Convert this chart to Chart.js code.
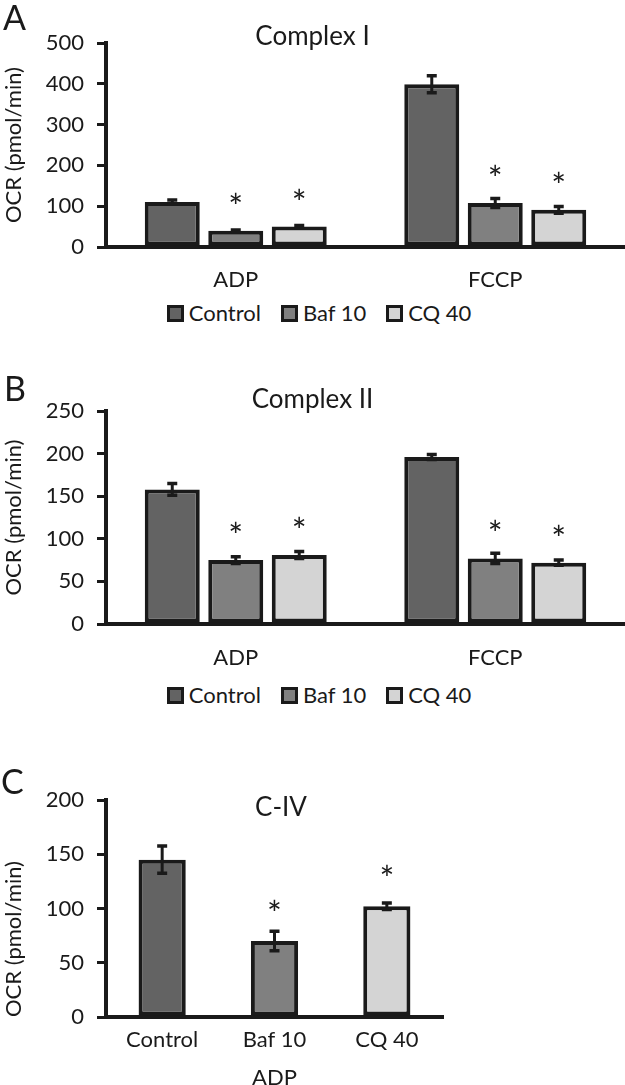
<!DOCTYPE html>
<html>
<head>
<meta charset="utf-8">
<script src="https://cdn.jsdelivr.net/npm/chart.js@4.4.0/dist/chart.umd.min.js"></script>
<style>
  body { margin: 0; width: 625px; height: 1085px; overflow: hidden; background: #fff; font-family: Lato, sans-serif; color: #1a1a1a; }
  canvas { position: absolute; left: 0; }
  .leyenda { position: absolute; left: 0; width: 638px; display: flex; justify-content: center; gap: 20px; font-size: 22px; line-height: 24px; }
  .item { display: flex; align-items: center; }
  .caja { width: 17px; height: 17px; box-sizing: border-box; border: 3px solid #1a1a1a; margin-right: 5px; }
</style>
</head>
<body>
<canvas id="graficoA" width="625" height="293" style="top:0"></canvas>
<div class="leyenda" id="leyendaA" style="top:301px"></div>
<canvas id="graficoB" width="625" height="330" style="top:340px"></canvas>
<div class="leyenda" id="leyendaB" style="top:683px"></div>
<canvas id="graficoC" width="562" height="335" style="top:760px"></canvas>
<script>
// Datos
const series = ['Control', 'Baf 10', 'CQ 40'];
const colores = ['#636363', '#808080', '#d4d4d4'];
const borde = '#1a1a1a';
const categoriasAB = ['ADP', 'FCCP'];
const sigAB = [false, true, true]; // asterisco por serie

// A - Complex I
const c1Control = [110, 399];
const c1ControlErr = [5, 21];
const c1Baf = [40, 108];
const c1BafErr = [1.5, 11];
const c1CQ = [50, 91];
const c1CQErr = [3, 8];

// B - Complex II
const c2Control = [158, 196];
const c2ControlErr = [7, 3];
const c2Baf = [75, 77];
const c2BafErr = [4, 6];
const c2CQ = [81, 72];
const c2CQErr = [4, 3];

// C - C-IV
const c4Categorias = ['Control', 'Baf 10', 'CQ 40'];
const c4Valores = [145, 70, 102];
const c4Err = [12.5, 9, 3];
const c4Sig = [false, true, true];

Chart.defaults.font.family = 'Lato';
Chart.defaults.color = borde;

// barras de error, asteriscos, titulo y letra del panel
const extras = {
    id: 'extras',
    afterDatasetsDraw(chart, args, opts) {
        const ctx = chart.ctx;
        const y = chart.scales.y;
        ctx.save();
        ctx.strokeStyle = borde;
        ctx.fillStyle = borde;
        chart.data.datasets.forEach((ds, i) => {
            chart.getDatasetMeta(i).data.forEach((bar, j) => {
                const v = ds.data[j], e = ds.errores[j];
                const y1 = y.getPixelForValue(v + e);
                const y2 = y.getPixelForValue(v - e);
                ctx.lineWidth = 3;
                ctx.beginPath();
                ctx.moveTo(bar.x, y1); ctx.lineTo(bar.x, y2);
                ctx.stroke();
                ctx.lineWidth = 3.5;
                ctx.beginPath();
                ctx.moveTo(bar.x - 5, y1); ctx.lineTo(bar.x + 5, y1);
                ctx.moveTo(bar.x - 5, y2); ctx.lineTo(bar.x + 5, y2);
                ctx.stroke();
                if (ds.sig[j]) {
                    ctx.font = '35px Lato';
                    ctx.textAlign = 'center';
                    ctx.fillText('*', bar.x, bar.y - opts.asterisco);
                }
            });
        });
        ctx.font = '26px Lato';
        ctx.textAlign = 'center';
        ctx.fillText(opts.titulo, chart.width / 2, opts.tituloY);
        ctx.font = '34px Lato';
        ctx.textAlign = 'left';
        ctx.fillText(opts.letra, opts.letraX, opts.letraY);
        ctx.restore();
    }
};

function serie(i, datos, errores, n) {
    return {
        label: series[i],
        data: datos,
        errores: errores,
        sig: Array(n).fill(sigAB[i]),
        backgroundColor: colores[i],
        borderColor: borde,
        borderWidth: 4,
        borderSkipped: false,
        barPercentage: 0.866,
        categoryPercentage: 0.734
    };
}

function ejes(yMax, paso, altoX, padX, tituloX) {
    return {
        x: {
            grid: { display: false, drawTicks: false, tickLength: 0 },
            border: { display: true, color: borde, width: 4 },
            ticks: { padding: padX, color: borde, font: { size: 22 } },
            title: { display: !!tituloX, text: tituloX || '', color: borde, font: { size: 22 }, padding: 4 },
            afterFit: s => { s.height = altoX; }
        },
        y: {
            min: 0,
            max: yMax,
            ticks: { stepSize: paso, padding: 13, color: borde, font: { size: 22 } },
            grid: { drawOnChartArea: false, drawTicks: true, tickLength: 9, color: borde, lineWidth: 3 },
            border: { color: borde, width: 4 },
            title: { display: true, text: 'OCR (pmol/min)', color: borde, font: { size: 22 }, padding: 0, align: tituloX ? 'start' : 'center' },
            afterFit: s => { s.width = 105; }
        }
    };
}

function crearGrafico(id, datos, escalas, padding, extrasOpts) {
    const ctx = document.getElementById(id).getContext('2d');
    return new Chart(ctx, {
        type: 'bar',
        data: datos,
        options: {
            responsive: false,
            animation: false,
            layout: { padding: padding },
            scales: escalas,
            plugins: {
                legend: { display: false },
                tooltip: { enabled: false },
                extras: extrasOpts
            }
        },
        plugins: [extras]
    });
}

function crearLeyenda(id) {
    const cont = document.getElementById(id);
    series.forEach((nombre, i) => {
        const item = document.createElement('div');
        item.className = 'item';
        const caja = document.createElement('span');
        caja.className = 'caja';
        caja.style.background = colores[i];
        item.appendChild(caja);
        item.appendChild(document.createTextNode(nombre));
        cont.appendChild(item);
    });
}

crearGrafico('graficoA', {
    labels: categoriasAB,
    datasets: [
        serie(0, c1Control, c1ControlErr, 2),
        serie(1, c1Baf, c1BafErr, 2),
        serie(2, c1CQ, c1CQErr, 2)
    ]
}, ejes(500, 100, 46, 20), { top: 43, left: 1, right: 0, bottom: 0 },
{ titulo: 'Complex I', tituloY: 45, letra: 'A', letraX: 3, letraY: 30, asterisco: 12 });

crearGrafico('graficoB', {
    labels: categoriasAB,
    datasets: [
        serie(0, c2Control, c2ControlErr, 2),
        serie(1, c2Baf, c2BafErr, 2),
        serie(2, c2CQ, c2CQErr, 2)
    ]
}, ejes(250, 50, 46, 21), { top: 71, left: 1, right: 0, bottom: 0 },
{ titulo: 'Complex II', tituloY: 68, letra: 'B', letraX: 4, letraY: 61, asterisco: 12 });

crearGrafico('graficoC', {
    labels: c4Categorias,
    datasets: [{
        label: 'C-IV',
        data: c4Valores,
        errores: c4Err,
        sig: c4Sig,
        backgroundColor: colores,
        borderColor: borde,
        borderWidth: 4,
        borderSkipped: false,
        barPercentage: 0.42,
        categoryPercentage: 1
    }]
}, ejes(200, 50, 78, 10, 'ADP'), { top: 40, left: 1, right: 119, bottom: 0 },
{ titulo: 'C-IV', tituloY: 56, letra: 'C', letraX: 1, letraY: 34, asterisco: 15 });

crearLeyenda('leyendaA');
crearLeyenda('leyendaB');
</script>
</body>
</html>
